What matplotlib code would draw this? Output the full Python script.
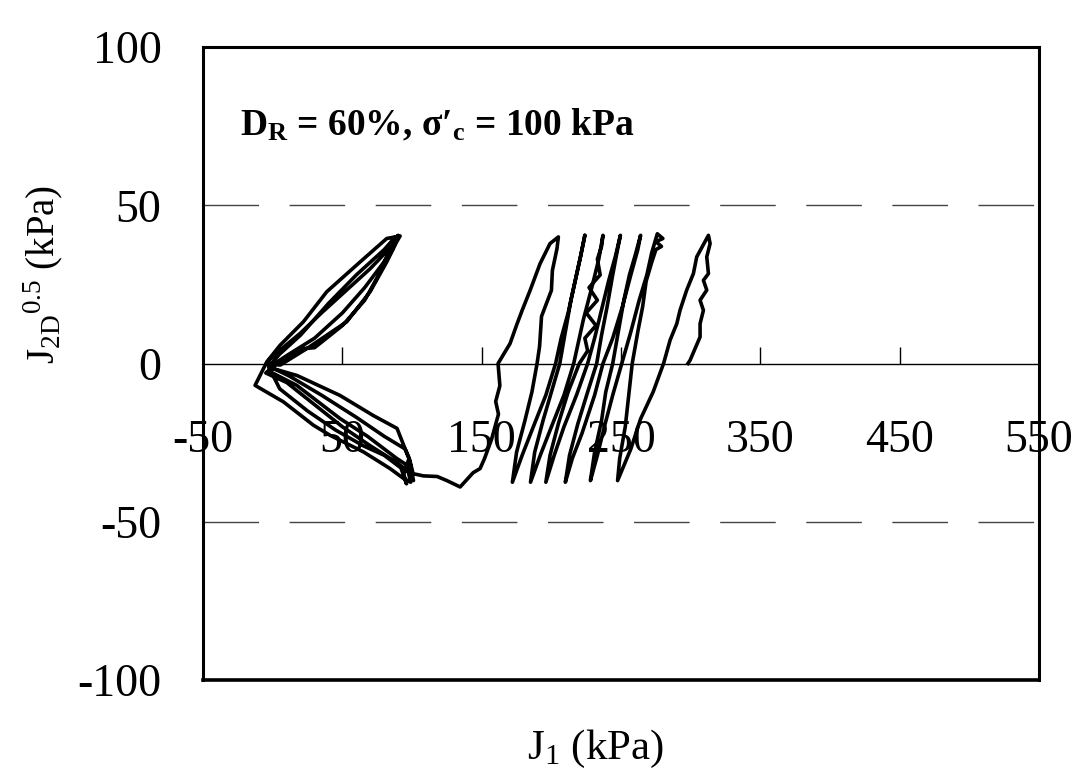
import numpy as np
import matplotlib
matplotlib.use("Agg")
import matplotlib.pyplot as plt

plt.rcParams['font.family'] = ['Liberation Serif', 'DejaVu Serif']
plt.rcParams['mathtext.fontset'] = 'custom'
plt.rcParams['mathtext.rm'] = 'Liberation Serif'
plt.rcParams['mathtext.bf'] = 'Liberation Serif:bold'
plt.rcParams['mathtext.it'] = 'Liberation Serif:italic'
plt.rcParams['axes.unicode_minus'] = False

# stress path: J1 (kPa) and sqrt(J2D) (kPa)
# stage 1: cyclic loading at high confinement (right-hand loops)
j1_cycles = [298.0, 299.5, 306.7, 306.7, 309.1, 306.7, 311.5, 309.1, 312.7, 311.5, 313.9, 312.7,
             304.3, 301.9, 297.1, 292.3, 290.0, 285.2, 280.5, 273.0, 264.0, 257.0, 247.5,
             249.0, 253.0, 255.0, 258.0, 262.0, 265.5, 268.0, 272.0, 275.0, 279.0, 275.0, 280.0, 276.0,
             272.0, 268.5, 263.0, 257.0, 250.5, 244.0, 238.0, 233.0, 228.0,
             231.0, 236.0, 239.0, 244.0, 248.0, 252.0, 256.0, 260.0, 264.0,
             262.0, 257.0, 251.0, 244.0, 237.0, 231.0, 222.0, 215.0, 210.0,
             213.0, 219.0, 226.0, 232.5, 236.0, 240.0, 244.0, 247.0, 249.5,
             246.0, 241.0, 236.0, 231.0, 226.0, 218.0, 209.0, 202.0, 196.0,
             199.0, 205.0, 212.0, 220.0, 226.0, 224.0, 232.0, 225.0, 233.0, 227.0, 235.0, 233.0, 236.0, 237.0,
             234.0, 229.0, 223.0, 219.0, 216.0, 209.0, 200.0, 192.0, 185.0,
             188.0, 194.0, 200.0, 206.0, 210.0, 214.0, 218.0, 221.0, 224.0,
             221.0, 217.0, 212.0, 207.0, 203.0, 196.0, 187.0, 179.0, 172.0,
             175.0, 181.0, 186.0, 189.7, 191.5, 192.9, 200.0, 200.7, 204.0, 205.0,
             199.0, 191.9, 184.7, 179.0, 175.4, 170.3, 161.7]
j2_cycles = [0.0, 1.0, 8.4, 12.6, 16.8, 20.0, 23.2, 26.3, 28.4, 33.7, 37.9, 40.5,
             33.7, 28.4, 23.2, 16.8, 12.6, 7.4, 0.0, -9.0, -17.5, -27.0, -37.0,
             -30.0, -20.0, -12.0, 0.0, 10.0, 18.0, 26.0, 32.0, 36.0, 37.0, 38.5, 39.5, 41.0,
             35.0, 28.0, 20.0, 10.0, 0.0, -10.0, -20.0, -29.0, -37.0,
             -28.0, -18.0, -9.0, 0.0, 10.0, 20.0, 28.0, 34.0, 40.5,
             36.0, 28.0, 18.0, 8.0, 0.0, -10.0, -22.0, -30.0, -37.5,
             -29.0, -19.0, -9.0, 0.0, 9.0, 18.0, 28.0, 35.0, 40.5,
             34.0, 26.0, 17.0, 8.0, 0.0, -10.0, -20.0, -29.0, -37.5,
             -29.0, -19.0, -9.0, 0.0, 4.0, 8.0, 12.0, 16.0, 20.0, 24.0, 28.0, 33.0, 37.0, 40.5,
             33.0, 24.0, 14.0, 6.0, 0.0, -10.0, -20.0, -29.0, -37.5,
             -28.0, -18.0, -9.0, 0.0, 10.0, 20.0, 28.0, 34.0, 40.5,
             34.0, 26.0, 16.0, 8.0, 0.0, -10.0, -20.0, -29.0, -37.5,
             -28.0, -18.0, -9.0, 0.0, 5.4, 14.9, 23.1, 29.4, 36.3, 40.0,
             37.9, 31.6, 23.1, 16.8, 12.6, 6.3, 0.0]

# stage 2: drop of mean stress towards the origin
j1_transition = [163.0, 160.0, 162.0, 157.0, 152.0, 148.8, 143.8, 134.5, 125.0, 118.0, 108.0, 100.7, 98.6]
j2_transition = [-7.0, -12.0, -16.0, -24.0, -30.0, -33.2, -34.5, -39.0, -37.0, -35.7, -35.5, -34.8, -31.0]

# stage 3: butterfly loops through the origin
j1_butterfly = [89.2, 72.0, 48.3, 17.5, 0.2, -4.5,
                5.3, 24.4, 53.1, 69.9, 81.8, 89.0, 91.4,
                81.8, 62.7, 38.8, 22.0, 5.3, -4.3, -12.7,
                7.6, 29.2, 41.2, 65.0, 84.2, 93.8, 99.0,
                96.0, 89.0, 68.0, 48.3, 17.2, -1.9,
                -3.0, 10.0, 19.6, 35.0, 55.0, 70.0, 83.0, 90.0,
                85.0, 76.0, 66.0, 50.0, 30.0, 21.8, 10.0, 0.0, -5.0,
                10.0, 30.0, 50.0, 70.0, 88.0, 97.0, 101.0,
                98.0, 95.0, 80.0, 60.0, 35.0, 12.0, -2.0,
                10.0, 30.0, 50.0, 66.0, 78.0, 86.0, 88.0,
                80.0, 60.0, 40.0, 20.0, 5.0, -3.0,
                5.0, 25.0, 45.0, 65.0, 80.0, 92.0, 96.0, 94.0, 97.0]
j2_butterfly = [-20.5, -16.4, -10.1, -3.8, -1.6, 0.0,
                -0.5, 4.7, 13.2, 22.7, 32.1, 38.5, 40.3,
                39.5, 32.1, 22.7, 13.2, 5.8, 0.5, -6.9,
                -12.1, -19.5, -22.7, -27.9, -33.2, -36.3, -37.5,
                -32.0, -30.0, -23.0, -17.4, -6.9, -2.6,
                1.0, 6.0, 9.5, 16.0, 24.0, 30.0, 36.0, 40.5,
                37.0, 28.0, 20.0, 12.0, 5.0, 4.7, 2.0, -1.0, -3.0,
                -6.0, -13.0, -20.0, -26.0, -31.0, -34.0, -37.0,
                -30.0, -27.0, -23.0, -17.0, -10.0, -4.0, -1.0,
                2.5, 8.0, 16.0, 24.0, 31.0, 36.0, 40.0,
                36.0, 28.0, 19.0, 9.0, 3.0, -1.0,
                -8.0, -15.0, -21.0, -26.0, -29.0, -33.0, -38.0, -35.0, -31.0]

x_ticks = [-50, 50, 150, 250, 350, 450, 550]
y_ticks = [-100, -50, 0, 50, 100]

j1 = np.concatenate([j1_cycles, j1_transition, j1_butterfly])
j2 = np.concatenate([j2_cycles, j2_transition, j2_butterfly])

fig = plt.figure(figsize=(10.92, 7.76), dpi=100)
ax = fig.add_axes([0.186, 0.1237, 0.7655, 0.8157])

ax.plot(j1, j2, color='black', lw=2.6, solid_joinstyle='round')

# dashed gridlines at +-50
for yv in (50, -50):
    ax.axhline(yv, color='#444444', lw=1.0, linestyle=(0, (40, 22)), zorder=0)

ax.set_xlim(-50, 550)
ax.set_ylim(-100, 100)
ax.set_xticks(x_ticks)
ax.set_yticks(y_ticks)

# x axis drawn through zero, frame drawn thick
ax.spines['bottom'].set_position(('data', 0))
ax.spines['bottom'].set_linewidth(1.0)
for side in ('left', 'right', 'top'):
    ax.spines[side].set_linewidth(2.2)
ax.axhline(-100, color='black', lw=2.6, clip_on=False)

ax.tick_params(axis='x', direction='in', length=12, width=1.0, pad=40, labelsize=33)
ax.tick_params(axis='y', direction='in', length=0, pad=30, labelsize=33)

ax.set_xlabel(r'J$_{\mathrm{1}}$ (kPa)', fontsize=31)
ax.xaxis.set_label_coords(0.469, -0.075)
ax.set_ylabel(r'J$_{\mathrm{2D}}$$^{\mathrm{0.5}}$ (kPa)', fontsize=28)
ax.yaxis.set_label_coords(-0.165, 0.64)

ax.text(-23.4, 75.2, r'$\mathbf{D_R}$' + ' = 60%, σ′' + r'$_\mathbf{c}$' + ' = 100 kPa',
        fontsize=27, fontweight='bold', va='center', ha='left')

fig.savefig('out.png', dpi=100)
